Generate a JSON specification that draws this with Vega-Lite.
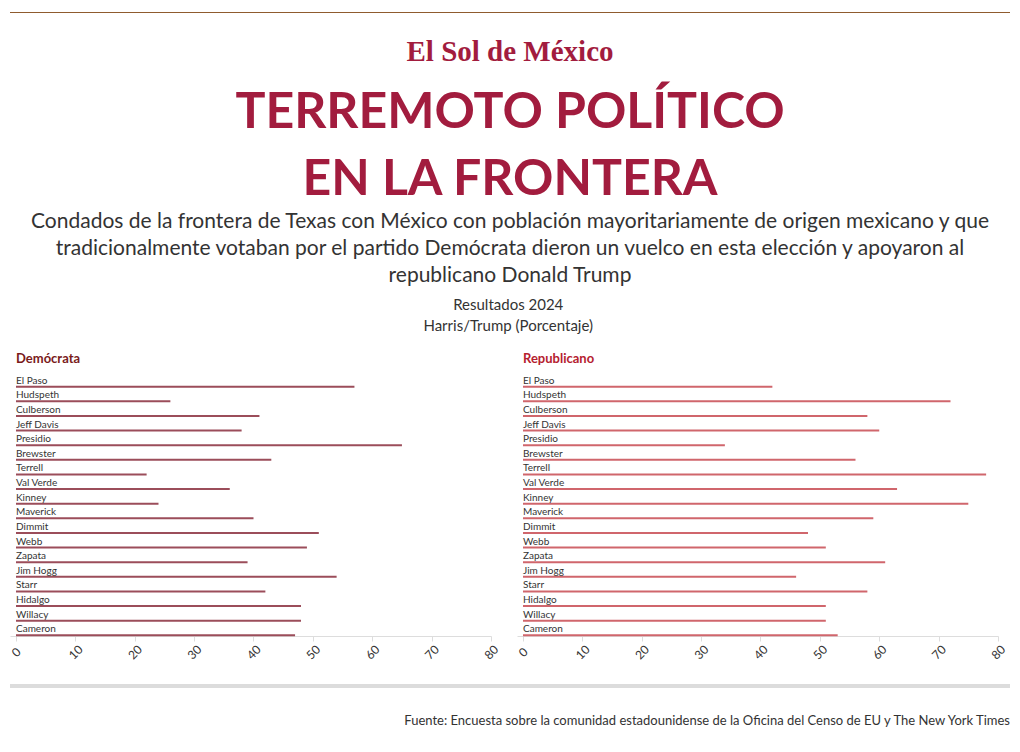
{
  "$schema": "https://vega.github.io/schema/vega-lite/v6.json",
  "padding": {"left": 9, "right": 10, "top": 11, "bottom": 5},
  "background": "white",
  "config": {"font": "Lato", "view": {"stroke": null}},
  "datasets": {
    "d": [
      {"condado": "El Paso", "partido": "Demócrata", "valor": 57},
      {"condado": "Hudspeth", "partido": "Demócrata", "valor": 26},
      {"condado": "Culberson", "partido": "Demócrata", "valor": 41},
      {"condado": "Jeff Davis", "partido": "Demócrata", "valor": 38},
      {"condado": "Presidio", "partido": "Demócrata", "valor": 65},
      {"condado": "Brewster", "partido": "Demócrata", "valor": 43},
      {"condado": "Terrell", "partido": "Demócrata", "valor": 22},
      {"condado": "Val Verde", "partido": "Demócrata", "valor": 36},
      {"condado": "Kinney", "partido": "Demócrata", "valor": 24},
      {"condado": "Maverick", "partido": "Demócrata", "valor": 40},
      {"condado": "Dimmit", "partido": "Demócrata", "valor": 51},
      {"condado": "Webb", "partido": "Demócrata", "valor": 49},
      {"condado": "Zapata", "partido": "Demócrata", "valor": 39},
      {"condado": "Jim Hogg", "partido": "Demócrata", "valor": 54},
      {"condado": "Starr", "partido": "Demócrata", "valor": 42},
      {"condado": "Hidalgo", "partido": "Demócrata", "valor": 48},
      {"condado": "Willacy", "partido": "Demócrata", "valor": 48},
      {"condado": "Cameron", "partido": "Demócrata", "valor": 47},
      {"condado": "El Paso", "partido": "Republicano", "valor": 42},
      {"condado": "Hudspeth", "partido": "Republicano", "valor": 72},
      {"condado": "Culberson", "partido": "Republicano", "valor": 58},
      {"condado": "Jeff Davis", "partido": "Republicano", "valor": 60},
      {"condado": "Presidio", "partido": "Republicano", "valor": 34},
      {"condado": "Brewster", "partido": "Republicano", "valor": 56},
      {"condado": "Terrell", "partido": "Republicano", "valor": 78},
      {"condado": "Val Verde", "partido": "Republicano", "valor": 63},
      {"condado": "Kinney", "partido": "Republicano", "valor": 75},
      {"condado": "Maverick", "partido": "Republicano", "valor": 59},
      {"condado": "Dimmit", "partido": "Republicano", "valor": 48},
      {"condado": "Webb", "partido": "Republicano", "valor": 51},
      {"condado": "Zapata", "partido": "Republicano", "valor": 61},
      {"condado": "Jim Hogg", "partido": "Republicano", "valor": 46},
      {"condado": "Starr", "partido": "Republicano", "valor": 58},
      {"condado": "Hidalgo", "partido": "Republicano", "valor": 51},
      {"condado": "Willacy", "partido": "Republicano", "valor": 51},
      {"condado": "Cameron", "partido": "Republicano", "valor": 53}
    ]
  },
  "spacing": 0,
  "vconcat": [
    {
      "width": 1000,
      "height": 1,
      "data": {"values": [{"k": 1}]},
      "mark": {"type": "text", "fontSize": 1},
      "encoding": {"text": {"value": ""}},
      "view": {"fill": "#8f5b2e", "stroke": null},
      "title": {"text": "El Sol de México", "subtitle": " ", "subtitleFontSize": 10, "subtitlePadding": 11, "orient": "bottom", "anchor": "middle", "font": "Liberation Serif", "fontSize": 29, "fontWeight": "bold", "color": "#a21c3e", "offset": 25}
    },
    {
      "width": 1000,
      "height": 11,
      "data": {"values": [{"k": 1}]},
      "mark": {"type": "text", "fontSize": 1},
      "encoding": {"text": {"value": ""}},
      "title": {
        "text": ["TERREMOTO POLÍTICO", "EN LA FRONTERA"],
        "subtitle": ["Condados de la frontera de Texas con México con población mayoritariamente de origen mexicano y que", "tradicionalmente votaban por el partido Demócrata dieron un vuelco en esta elección y apoyaron al", "republicano Donald Trump"],
        "anchor": "middle",
        "font": "Lato",
        "fontSize": 50,
        "fontWeight": "bold",
        "color": "#a21c3e",
        "lineHeight": 67,
        "subtitleFont": "Lato",
        "subtitleFontSize": 21,
        "subtitleColor": "#333333",
        "subtitleLineHeight": 27,
        "subtitlePadding": 6,
        "offset": 0
      }
    },
    {
      "title": {"text": ["Resultados 2024", "Harris/Trump (Porcentaje)"], "anchor": "middle", "fontSize": 15, "fontWeight": "normal", "color": "#333333", "lineHeight": 21, "offset": 19},
      "spacing": 15,
      "hconcat": [
        {
          "width": 481,
          "height": 250,
          "data": {"name": "d"},
          "transform": [{"filter": "datum.partido === 'Demócrata'"}],
          "title": {"text": "Demócrata", "anchor": "start", "frame": "group", "dx": 6, "fontSize": 13, "fontWeight": "bold", "color": "#7a1a1a", "offset": 10},
          "encoding": {"y": {"field": "condado", "type": "nominal", "sort": null, "scale": {"type": "point", "padding": 0.05}, "axis": null}},
          "layer": [
            {
              "mark": {"type": "rule", "strokeWidth": 2, "color": "#9b4d5a"},
              "encoding": {
                "x": {"field": "valor", "type": "quantitative", "scale": {"domain": [-1.01, 80], "nice": false, "zero": false}, "axis": {"values": [0, 10, 20, 30, 40, 50, 60, 70, 80], "grid": false, "title": null, "labelAngle": -45, "labelAlign": "center", "labelBaseline": "middle", "labelPadding": 11, "labelFontSize": 12, "labelColor": "#333333", "domainColor": "#dddddd", "tickColor": "#dddddd", "tickSize": 5}},
                "x2": {"datum": 0}
              }
            },
            {
              "mark": {"type": "text", "align": "left", "baseline": "alphabetic", "dy": -3, "fontSize": 10, "color": "#333333"},
              "encoding": {"x": {"datum": 0}, "text": {"field": "condado"}}
            }
          ]
        },
        {
          "width": 481,
          "height": 250,
          "data": {"name": "d"},
          "transform": [{"filter": "datum.partido === 'Republicano'"}],
          "title": {"text": "Republicano", "anchor": "start", "frame": "group", "dx": 6, "fontSize": 13, "fontWeight": "bold", "color": "#b5202e", "offset": 10},
          "encoding": {"y": {"field": "condado", "type": "nominal", "sort": null, "scale": {"type": "point", "padding": 0.05}, "axis": null}},
          "layer": [
            {
              "mark": {"type": "rule", "strokeWidth": 2, "color": "#d0666c"},
              "encoding": {
                "x": {"field": "valor", "type": "quantitative", "scale": {"domain": [-1.01, 80], "nice": false, "zero": false}, "axis": {"values": [0, 10, 20, 30, 40, 50, 60, 70, 80], "grid": false, "title": null, "labelAngle": -45, "labelAlign": "center", "labelBaseline": "middle", "labelPadding": 11, "labelFontSize": 12, "labelColor": "#333333", "domainColor": "#dddddd", "tickColor": "#dddddd", "tickSize": 5}},
                "x2": {"datum": 0}
              }
            },
            {
              "mark": {"type": "text", "align": "left", "baseline": "alphabetic", "dy": -3, "fontSize": 10, "color": "#333333"},
              "encoding": {"x": {"datum": 0}, "text": {"field": "condado"}}
            }
          ]
        }
      ]
    },
    {
      "width": 1000,
      "height": 22,
      "data": {"values": [{"k": 1}]},
      "mark": {"type": "text", "fontSize": 1},
      "encoding": {"text": {"value": ""}}
    },
    {
      "width": 1000,
      "height": 4,
      "data": {"values": [{"k": 1}]},
      "mark": {"type": "text", "fontSize": 1},
      "encoding": {"text": {"value": ""}},
      "view": {"fill": "#dcdcdc", "stroke": null},
      "title": {"text": "Fuente: Encuesta sobre la comunidad estadounidense de la Oficina del Censo de EU y The New York Times", "orient": "bottom", "anchor": "end", "fontSize": 13, "fontWeight": "normal", "color": "#333333", "offset": 27}
    }
  ]
}
